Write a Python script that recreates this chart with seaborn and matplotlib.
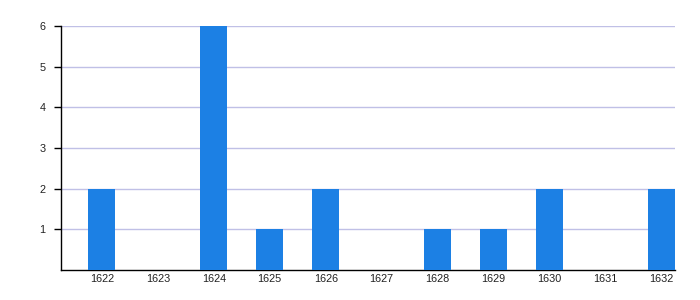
import matplotlib
matplotlib.use("Agg")
import matplotlib.pyplot as plt
import seaborn as sns
import pandas as pd

years = ["1622", "1623", "1624", "1625", "1626", "1627", "1628", "1629", "1630", "1631", "1632"]
counts = [2, 0, 6, 1, 2, 0, 1, 1, 2, 0, 2]

sns.set_style("white")
plt.rcParams['font.family'] = ['Liberation Sans', 'DejaVu Sans']

df = pd.DataFrame({"year": years, "count": counts})

fig = plt.figure(figsize=(7, 3), dpi=100)
ax = fig.add_axes([61/700, 30/300, (675-61)/700, (270-26)/300])

sns.barplot(data=df, x="year", y="count", color="#1c80e4", saturation=1,
            width=0.48, ax=ax, zorder=3, linewidth=0, edgecolor="none")

ax.set_ylim(0, 6)
ax.set_xlim(-0.73, 10.24)
ax.set_yticks([1, 2, 3, 4, 5, 6])
ax.yaxis.grid(True, color="#c0c0e6", linewidth=1, zorder=0)
ax.set_axisbelow(True)
ax.set_xlabel("")
ax.set_ylabel("")
for s in ["top", "right"]:
    ax.spines[s].set_visible(False)
for s in ["left", "bottom"]:
    ax.spines[s].set_color("black")
    ax.spines[s].set_linewidth(1)
ax.tick_params(axis="y", length=5, width=1, color="black", labelcolor="#222222",
               labelsize=7.8, pad=6, left=True)
ax.tick_params(axis="x", length=0, labelsize=7.8, labelcolor="#222222", pad=3)

fig.savefig("out.png", dpi=100)
